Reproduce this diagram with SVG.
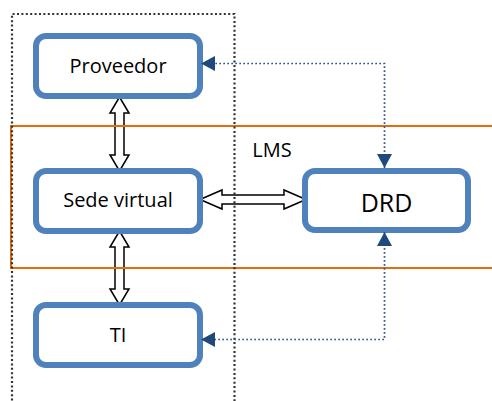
<svg xmlns="http://www.w3.org/2000/svg" width="492" height="401" viewBox="0 0 492 401">
  <style>
    .frame-zone { fill: none; stroke: #E46C0A; stroke-width: 2; }
    .frame-org { fill: none; stroke: #333333; stroke-width: 2.2; stroke-dasharray: 2 2.4; }
    .box { fill: #FFFFFF; stroke: #4F81BD; stroke-width: 6; }
    .label { font-family: "Open Sans", "Liberation Sans", sans-serif; font-size: 20px; fill: #000000; text-anchor: middle; }
    .big { font-size: 25px; }
    .block { fill: #FFFFFF; stroke: #000000; stroke-width: 1.5; stroke-linejoin: miter; }
    .link { fill: none; stroke: #2F5597; stroke-width: 1.7; stroke-dasharray: 1.7 2.3; }
  </style>
  <defs>
    <marker id="tri" viewBox="0 0 14 15" refX="14" refY="7.5" markerWidth="14" markerHeight="15" markerUnits="userSpaceOnUse" orient="auto-start-reverse">
      <path d="M0,0 L14,7.5 L0,15 Z" fill="#1F497D"/>
    </marker>
  </defs>

  <rect width="492" height="401" fill="#FFFFFF"/>

  <!-- double block arrows -->
  <g id="connectors">
    <polygon class="block" points="119.5,97 129,113 124,113 124,155 129,155 119.5,171 110,155 115,155 115,113 110,113"/>
    <polygon class="block" points="119.5,231 129,247 124,247 124,289 129,289 119.5,305 110,289 115,289 115,247 110,247"/>
    <polygon class="block" points="200,199.5 222,190 222,195 284,195 284,190 306,199.5 284,209 284,204 222,204 222,209"/>
  </g>

  <!-- LMS zone and organisation frame -->
  <g id="lms-zone">
    <path class="frame-zone" d="M495,126 H11 V268 H495"/>
    <text class="label" x="272" y="157">LMS</text>
  </g>
  <path class="frame-org" d="M12,405 V14 H234.5 V405"/>

  <g id="proveedor">
    <rect class="box" x="36" y="36" width="164" height="60" rx="10"/>
    <text class="label" x="118" y="73">Proveedor</text>
  </g>
  <g id="sede-virtual">
    <rect class="box" x="36" y="171" width="164" height="60" rx="10"/>
    <text class="label" x="118" y="207">Sede virtual</text>
  </g>
  <g id="ti">
    <rect class="box" x="36" y="305" width="164" height="60" rx="10"/>
    <text class="label" x="118" y="342">TI</text>
  </g>
  <g id="drd">
    <rect class="box" x="305" y="171" width="163" height="59" rx="10"/>
    <text class="label big" x="386.5" y="212">DRD</text>
  </g>

  <!-- dotted information flows -->
  <g id="flows">
    <path class="link" d="M384.5,168 V63.5 H201" marker-start="url(#tri)" marker-end="url(#tri)"/>
    <path class="link" d="M384.5,232 V339.5 H201" marker-start="url(#tri)" marker-end="url(#tri)"/>
  </g>
</svg>
